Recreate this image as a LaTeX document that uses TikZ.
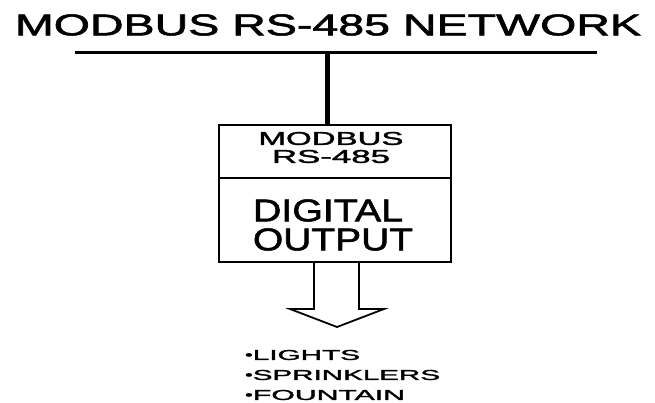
\documentclass[tikz,border=0pt]{standalone}
\usepackage{fontspec}
\setmainfont{Liberation Sans}
\newfontfamily\diagfont[FakeBold=1.6]{Liberation Sans}
\newcommand\fitt[3]{\resizebox{#1pt}{#2pt}{\diagfont #3}}
\newcommand\bul{\raisebox{0.05em}{\scalebox{0.75}[0.9]{•}}}
\begin{document}
\begin{tikzpicture}[x=1pt,y=-1pt,
  lbl/.style={inner sep=0pt,outer sep=0pt},
  boxpart/.style={draw,line width=1.8pt,minimum width=232pt,inner sep=0pt},
  busline/.style={line width=3pt},
  tapline/.style={line width=5pt},
  arr/.style={line width=1.8pt,line join=miter}]
\useasboundingbox (0,0) rectangle (655,403);
\node[lbl] (title) at (328,25) {\fitt{626}{21}{MODBUS RS-485 NETWORK}};
\coordinate (busL) at (75,53);
\coordinate (busR) at (597,53);
\coordinate (tap) at (327,53);
\draw[busline] (busL) -- (busR);
\node[boxpart,minimum height=53pt] (top) at (335,151.5) {};
\node[boxpart,minimum height=84pt] (bot) at (335,220) {};
\draw[tapline] (tap) -- (tap |- top.north);
\node[lbl] (l1) at (331,138.5) {\fitt{145}{13}{MODBUS}};
\node[lbl] (l2) at (331,156.5) {\fitt{118}{13}{RS-485}};
\node[lbl] (l3) at (328,210.5) {\fitt{150}{22}{DIGITAL}};
\node[lbl] (l4) at (333,239.5) {\fitt{160}{22}{OUTPUT}};
\coordinate (aL) at (314,262);
\coordinate (aR) at (359,262);
\draw[arr] (aL) -- (314,309) -- (290,309) -- (337,327) -- (384,309) -- (359,309) -- (aR);
\node[lbl,anchor=west] (i1) at (245,355) {\fitt{115}{10}{\bul LIGHTS}};
\node[lbl,anchor=west] (i2) at (245,375) {\fitt{195}{10}{\bul SPRINKLERS}};
\node[lbl,anchor=west] (i3) at (245,395) {\fitt{160}{10}{\bul FOUNTAIN}};
\end{tikzpicture}
\end{document}
